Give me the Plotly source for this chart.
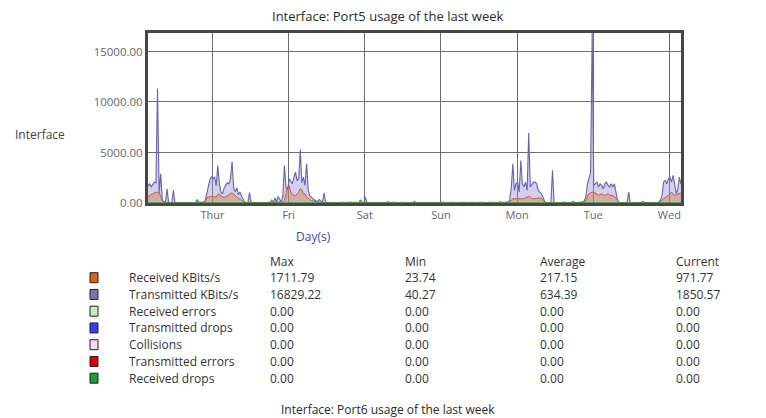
import pandas as pd
import plotly.graph_objects as go

# ---------------- data ----------------
start_time = "2024-01-03 03:40"
end_time = "2024-01-10 03:40"
day_ticks = ["2024-01-04", "2024-01-05", "2024-01-06", "2024-01-07", "2024-01-08", "2024-01-09", "2024-01-10"]
day_labels = ["Thur", "Fri", "Sat", "Sun", "Mon", "Tue", "Wed"]
y_ticks = [0, 5000, 10000, 15000]

# Transmitted KBits/s, 30-min samples, in 7 chunks
tx_c1 = [1700, 1900, 1600, 1900, 2070, 2000, 11300, 1000, 2900, 300,
         100, 90, 1400, 60, 50, 50, 1250, 50, 45, 40,
         45, 40, 50, 45, 40, 60, 45, 40, 50, 45,
         60, 330, 60, 45, 50, 60, 200, 900, 1900, 2300,
         2600, 2400, 2600, 1700, 3700, 1900, 1070, 900]
tx_c2 = [1500, 1700, 2000, 1900, 2400, 4100, 1500, 1100, 1500, 830,
         1100, 650, 300, 100, 50, 60, 1020, 45, 40, 50,
         45, 40, 60, 45, 40, 50, 45, 40, 50, 45,
         300, 50, 500, 100, 650, 420, 100, 700, 3720, 1580,
         1250, 2400, 2200, 1900, 2560, 3060, 2200, 2400]
tx_c3 = [5280, 2000, 2560, 1740, 3900, 1250, 700, 500, 420, 300,
         250, 150, 350, 250, 80, 1000, 50, 45, 40, 50,
         60, 45, 40, 50, 45, 40, 80, 60, 45, 40,
         50, 90, 45, 40, 60, 45, 40, 50, 330, 60,
         45, 580, 60, 45, 40, 50, 45, 40]
tx_c4 = [50, 45, 40, 60, 45, 40, 50, 120, 45, 40,
         60, 45, 40, 50, 45, 40, 80, 45, 40, 50,
         45, 40, 60, 45, 150, 40, 50, 45, 40, 60,
         45, 40, 50, 45, 40, 60, 45, 40, 50, 45,
         40, 60, 45, 40, 50, 45, 40, 60]
tx_c5 = [45, 40, 50, 45, 40, 60, 45, 40, 50, 45,
         40, 60, 45, 40, 50, 45, 40, 60, 45, 40,
         50, 45, 40, 60, 45, 40, 50, 45, 40, 60,
         120, 45, 40, 50, 60, 100, 300, 1500, 3890, 1250,
         1900, 2070, 1100, 4200, 1900, 1580, 2070, 1250]
tx_c6 = [6920, 1580, 1900, 2070, 2070, 1900, 1250, 1100, 920, 600,
         150, 50, 45, 40, 50, 3230, 50, 45, 40, 60,
         45, 40, 100, 45, 40, 50, 45, 60, 150, 45,
         40, 50, 80, 45, 120, 200, 600, 1900, 2400, 3000,
         16829.22, 1740, 1900, 2070, 1580, 1900, 1740, 1420]
tx_c7 = [1900, 2070, 1740, 1580, 1900, 1580, 1900, 920, 260, 50,
         45, 40, 50, 45, 60, 1080, 50, 45, 40, 50,
         45, 40, 60, 45, 150, 40, 50, 45, 40, 60,
         45, 40, 50, 45, 100, 300, 700, 2070, 2230, 1900,
         2400, 2560, 2070, 2730, 1900, 920, 1400, 2560, 1850.57]

# Received KBits/s, 30-min samples, in 7 chunks
rx_c1 = [600, 750, 850, 900, 1000, 1080, 1050, 1000, 650, 300,
         150, 80, 60, 35, 30, 28, 30, 26, 28, 25,
         27, 30, 26, 28, 25, 30, 27, 26, 28, 30,
         26, 40, 28, 26, 30, 28, 100, 500, 600, 650,
         650, 650, 620, 600, 850, 900, 650, 600]
rx_c2 = [580, 620, 750, 850, 950, 1000, 900, 750, 600, 450,
         350, 250, 150, 60, 30, 28, 80, 26, 28, 25,
         27, 30, 26, 28, 25, 30, 27, 26, 28, 30,
         40, 28, 60, 35, 80, 60, 35, 100, 250, 900,
         1580, 1711.79, 1100, 850, 750, 700, 900, 1050]
rx_c3 = [1400, 1300, 900, 900, 600, 420, 330, 250, 200, 150,
         120, 80, 80, 60, 30, 60, 28, 26, 28, 25,
         27, 30, 26, 28, 25, 30, 27, 26, 28, 30,
         26, 28, 30, 26, 28, 25, 27, 30, 60, 28,
         26, 80, 28, 30, 26, 28, 25, 27]
rx_c4 = [30, 26, 28, 25, 27, 30, 26, 28, 25, 30,
         27, 26, 28, 30, 26, 28, 23.74, 27, 30, 26,
         28, 25, 27, 30, 26, 28, 25, 30, 27, 26,
         28, 30, 26, 28, 25, 27, 30, 26, 28, 25,
         30, 27, 26, 28, 30, 26, 28, 25]
rx_c5 = [27, 30, 26, 28, 25, 30, 27, 26, 28, 30,
         26, 28, 25, 27, 30, 26, 28, 25, 30, 27,
         26, 28, 30, 26, 28, 25, 27, 30, 26, 28,
         40, 28, 26, 30, 28, 30, 100, 300, 420, 420,
         420, 400, 400, 380, 400, 420, 500, 600]
rx_c6 = [650, 600, 450, 420, 420, 420, 480, 500, 480, 250,
         80, 30, 28, 26, 28, 60, 27, 30, 26, 28,
         25, 30, 35, 26, 28, 30, 26, 28, 40, 27,
         30, 26, 30, 28, 35, 50, 200, 700, 920, 1000,
         1080, 1050, 1000, 900, 750, 850, 920, 800]
rx_c7 = [750, 850, 920, 800, 750, 700, 650, 500, 200, 60,
         30, 28, 26, 28, 25, 60, 27, 30, 26, 28,
         30, 26, 28, 25, 40, 27, 26, 28, 30, 26,
         28, 25, 27, 30, 35, 100, 300, 450, 500, 600,
         750, 900, 1080, 900, 750, 800, 920, 950, 971.77]

zero_series = [0, 0]

# legend table
series_names = ["Received KBits/s", "Transmitted KBits/s", "Received errors", "Transmitted drops",
                "Collisions", "Transmitted errors", "Received drops"]
series_colors = ["#e0600e", "#7a72b4", "#c8ecc0", "#3c3cf0", "#fad4f6", "#e00000", "#18a030"]
max_vals = [1711.79, 16829.22, 0.00, 0.00, 0.00, 0.00, 0.00]
min_vals = [23.74, 40.27, 0.00, 0.00, 0.00, 0.00, 0.00]
avg_vals = [217.15, 634.39, 0.00, 0.00, 0.00, 0.00, 0.00]
cur_vals = [971.77, 1850.57, 0.00, 0.00, 0.00, 0.00, 0.00]
col_headers = ["Max", "Min", "Average", "Current"]

# ---------------- build ----------------
tx = tx_c1 + tx_c2 + tx_c3 + tx_c4 + tx_c5 + tx_c6 + tx_c7
rx = rx_c1 + rx_c2 + rx_c3 + rx_c4 + rx_c5 + rx_c6 + rx_c7
times = pd.date_range(start=start_time, periods=len(tx), freq="30min")

# page offset of the plot div (body margin) is 8px
OFF = 8
W, H = 766 - OFF, 418 - OFF
L, R, T, B = 148, 681, 33, 203   # page pixels of the plot frame
PW, PH = R - L, B - T


def fx(p):
    return (p - L) / PW


def fy(p):
    return (B - p) / PH


FONT = "Open Sans"
TXT = "#333333"

fig = go.Figure()
fig.add_trace(go.Scatter(x=times, y=tx, mode="lines", fill="tozeroy",
                         line=dict(color="#6a62ae", width=1.1),
                         fillcolor="rgba(150,142,214,0.42)", hoverinfo="skip"))
fig.add_trace(go.Scatter(x=times, y=rx, mode="lines", fill="tozeroy",
                         line=dict(color="#c0603a", width=1),
                         fillcolor="rgba(214,120,70,0.42)", hoverinfo="skip"))
fig.add_trace(go.Scatter(x=[start_time, end_time], y=zero_series, mode="lines",
                         line=dict(color="#3aa040", width=1.5), hoverinfo="skip"))

fig.update_xaxes(range=[start_time, end_time], tickvals=day_ticks, ticktext=day_labels,
                 showgrid=True, gridcolor="#6e6e6e", gridwidth=1,
                 showline=True, mirror=True, linecolor="#474747", linewidth=3,
                 ticks="", tickfont=dict(family=FONT, size=11, color="#666666"), zeroline=False)
fig.update_yaxes(range=[0, 16829.22], tickvals=y_ticks, tickformat=".2f",
                 showgrid=True, gridcolor="#6e6e6e", gridwidth=1,
                 showline=True, mirror=True, linecolor="#474747", linewidth=3,
                 ticks="", tickfont=dict(family=FONT, size=11.5, color="#666666"), zeroline=False)

ann = []
ann.append(dict(text="Interface: Port5 usage of the last week", x=fx(388), y=fy(16),
                xanchor="center", yanchor="middle",
                font=dict(family=FONT, size=13, color="#2a2a2a")))
ann.append(dict(text="Interface", x=fx(13), y=fy(134), xanchor="left", yanchor="middle",
                font=dict(family=FONT, size=12, color="#444444")))
ann.append(dict(text="Day(s)", x=fx(313), y=fy(236), xanchor="center", yanchor="middle",
                font=dict(family=FONT, size=12, color="#3b4a9c")))
ann.append(dict(text="Interface: Port6 usage of the last week", x=fx(388), y=fy(409),
                xanchor="center", yanchor="middle",
                font=dict(family=FONT, size=12, color="#2a2a2a")))

col_x = [268, 403, 538, 674]
header_y = 261
row_y0 = 277.7
row_dy = 16.75
for cx, h in zip(col_x, col_headers):
    ann.append(dict(text=h, x=fx(cx), y=fy(header_y), xanchor="left", yanchor="middle",
                    font=dict(family=FONT, size=12, color=TXT)))

shapes = []
for i, name in enumerate(series_names):
    ry = row_y0 + i * row_dy
    ann.append(dict(text=name, x=fx(127), y=fy(ry), xanchor="left", yanchor="middle",
                    font=dict(family=FONT, size=12, color=TXT)))
    for cx, v in zip(col_x, [max_vals[i], min_vals[i], avg_vals[i], cur_vals[i]]):
        ann.append(dict(text=f"{v:.2f}", x=fx(cx), y=fy(ry), xanchor="left", yanchor="middle",
                        font=dict(family=FONT, size=12, color=TXT)))
    shapes.append(dict(type="rect", xref="paper", yref="paper",
                       x0=fx(90), x1=fx(98), y0=fy(ry + 5), y1=fy(ry - 5),
                       fillcolor=series_colors[i], line=dict(color="#222222", width=1)))

for a in ann:
    a.update(xref="paper", yref="paper", showarrow=False)

fig.update_layout(width=W, height=H, margin=dict(l=L - OFF, r=766 - R, t=T - OFF, b=418 - B),
                  paper_bgcolor="white", plot_bgcolor="white", showlegend=False,
                  annotations=ann, shapes=shapes)

fig.write_html("out.html")
